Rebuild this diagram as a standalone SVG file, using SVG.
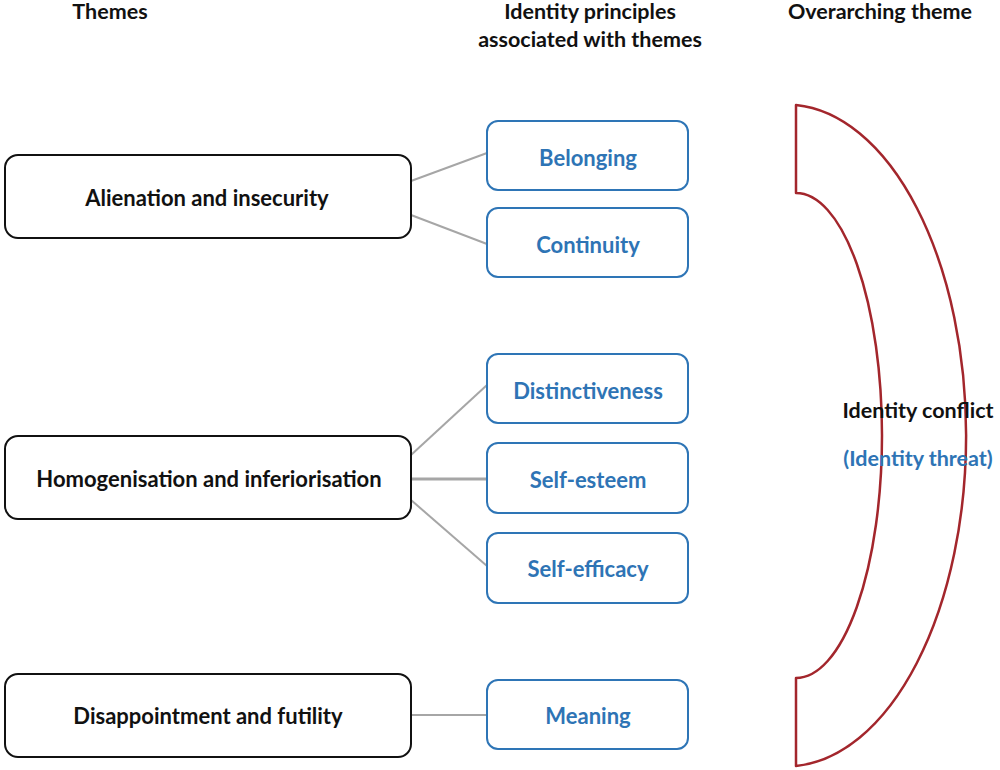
<svg xmlns="http://www.w3.org/2000/svg" width="1000" height="770" viewBox="0 0 1000 770">
<style>
text{font-family:Lato,"Open Sans","Liberation Sans",sans-serif;font-weight:bold;text-anchor:middle;dominant-baseline:central}
.hdr{font-size:21.5px;fill:#111}
.theme rect{fill:#fff;stroke:#111;stroke-width:2}
.theme text{font-size:22px;fill:#111}
.prin rect{fill:#fff;stroke:#2E75B6;stroke-width:2}
.prin text{font-size:22px;fill:#2E74B5}
.conn line{stroke:#A6A6A6;stroke-width:2}
</style>
<rect width="1000" height="770" fill="#fff"/>
<g id="headers">
<text class="hdr" x="110" y="11">Themes</text>
<text class="hdr" x="590" y="11">Identity principles</text>
<text class="hdr" x="590" y="39">associated with themes</text>
<text class="hdr" x="880" y="11">Overarching theme</text>
</g>
<g id="connectors" class="conn">
<line x1="411" y1="181" x2="487" y2="153"/>
<line x1="411" y1="215" x2="487" y2="244"/>
<line x1="411" y1="455" x2="487" y2="385"/>
<line x1="411" y1="479" x2="487" y2="479" style="stroke-width:3"/>
<line x1="411" y1="500" x2="487" y2="566"/>
<line x1="411" y1="715" x2="487" y2="715"/>
</g>
<g id="alienation" class="theme"><rect x="5" y="155" width="406" height="83" rx="13"/><text x="207" y="197">Alienation and insecurity</text></g>
<g id="homogenisation" class="theme"><rect x="5" y="436" width="406" height="83" rx="13"/><text x="209" y="478">Homogenisation and inferiorisation</text></g>
<g id="disappointment" class="theme"><rect x="5" y="674" width="406" height="83" rx="13"/><text x="208" y="715">Disappointment and futility</text></g>
<g id="belonging" class="prin"><rect x="487" y="121" width="201" height="69" rx="11"/><text x="588" y="157">Belonging</text></g>
<g id="continuity" class="prin"><rect x="487" y="208" width="201" height="69" rx="11"/><text x="588" y="244">Continuity</text></g>
<g id="distinctiveness" class="prin"><rect x="487" y="354" width="201" height="69" rx="11"/><text x="588" y="390">Distinctiveness</text></g>
<g id="selfesteem" class="prin"><rect x="487" y="443" width="201" height="70" rx="11"/><text x="588" y="479">Self-esteem</text></g>
<g id="selfefficacy" class="prin"><rect x="487" y="533" width="201" height="70" rx="11"/><text x="588" y="568">Self-efficacy</text></g>
<g id="meaning" class="prin"><rect x="487" y="680" width="201" height="69" rx="11"/><text x="588" y="715">Meaning</text></g>
<g id="overarching">
<path d="M796,105 A180,331 0 0 1 796,766 L796,678 A86,242.5 0 0 0 796,193 Z" fill="none" stroke="#A3262C" stroke-width="2.5" stroke-linejoin="round"/>
<text x="918" y="410" style="font-size:21.5px;fill:#111">Identity conflict</text>
<text x="918" y="458" style="font-size:21.5px;fill:#2E74B5">(Identity threat)</text>
</g>
</svg>
